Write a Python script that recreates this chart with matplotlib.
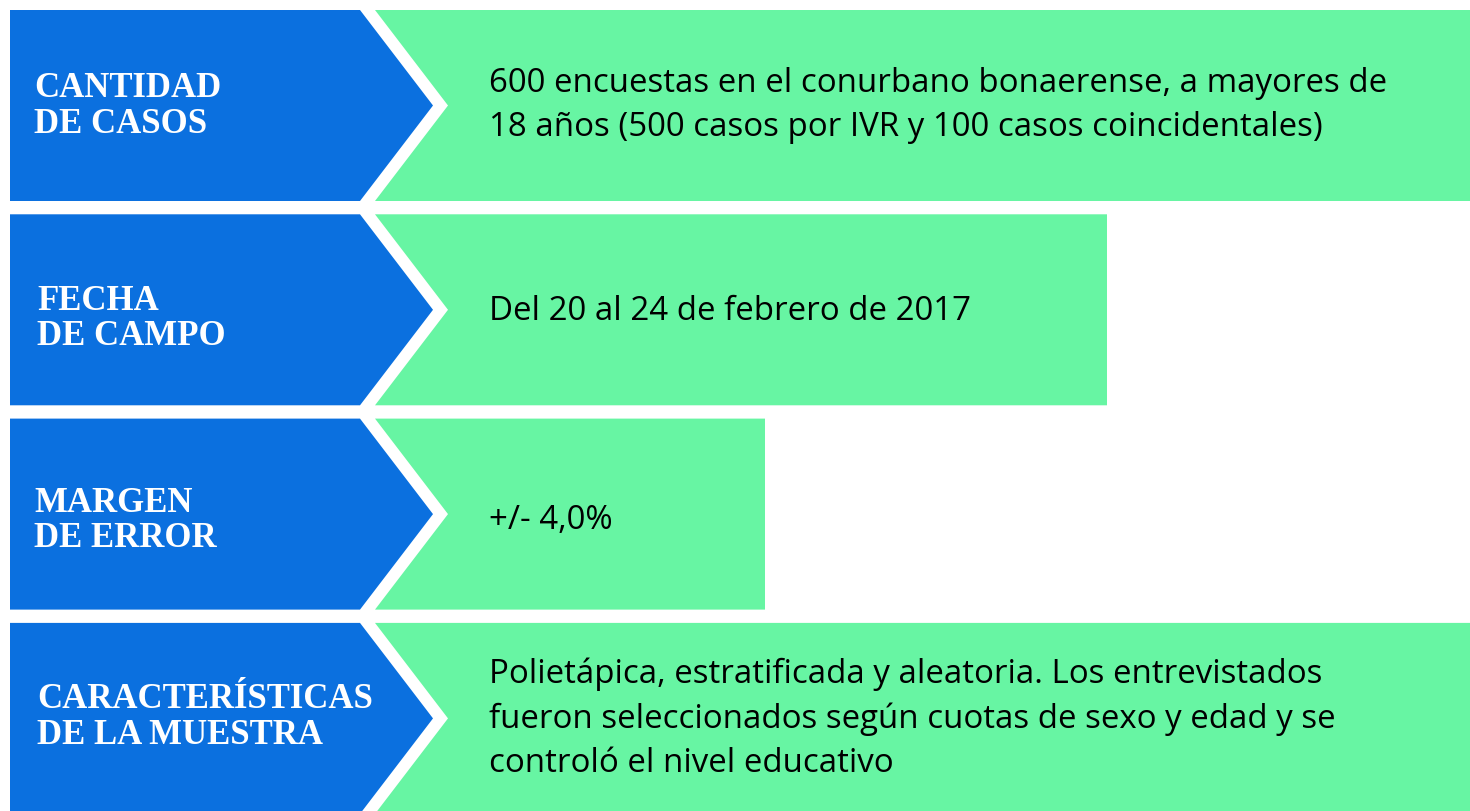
import matplotlib.pyplot as plt
from matplotlib.patches import Polygon

labels = ['CANTIDAD\nDE CASOS', 'FECHA\nDE CAMPO', 'MARGEN\nDE ERROR',
          'CARACTERÍSTICAS\nDE LA MUESTRA']
texts = ['600 encuestas en el conurbano bonaerense, a mayores de\n'
         '18 años (500 casos por IVR y 100 casos coincidentales)',
         'Del 20 al 24 de febrero de 2017',
         '+/- 4,0%',
         'Polietápica, estratificada y aleatoria. Los entrevistados\n'
         'fueron seleccionados según cuotas de sexo y edad y se\n'
         'controló el nivel educativo']
bar_ends = [1470, 1107, 765, 1470]

BLUE = '#0B70DF'
GREEN = '#67F5A3'

# small per-row nudges of the text, as in the original slide
label_dx = [0, 3, 0, 3]
label_dy = [1, 9, 7, -1]
text_dy = [0, 2, 6, 0]

W, H = 1470, 811
fig = plt.figure(figsize=(W / 100, H / 100), dpi=100)
ax = fig.add_axes([0, 0, 1, 1])
ax.set_xlim(0, W)
ax.set_ylim(H, 0)
ax.axis('off')

top0, pitch, height = 10, 204.3, 191
left, box_r, tip = 10, 360, 73
gap = 15

for i, (lab, txt, end) in enumerate(zip(labels, texts, bar_ends)):
    top = top0 + i * pitch
    bot = top + height
    mid = (top + bot) / 2
    blue = Polygon([(left, top), (box_r, top), (box_r + tip, mid),
                    (box_r, bot), (left, bot)], closed=True,
                   facecolor=BLUE, edgecolor='none')
    green = Polygon([(box_r + gap, top), (end, top), (end, bot),
                     (box_r + gap, bot), (box_r + gap + tip, mid)],
                    closed=True, facecolor=GREEN, edgecolor='none')
    ax.add_patch(blue)
    ax.add_patch(green)
    ax.text(34 + label_dx[i], mid + label_dy[i], lab, color='white',
            fontsize=25, fontweight='bold', family='Liberation Serif',
            ha='left', va='center', linespacing=1.1)
    ax.text(489, mid + text_dy[i], txt, color='black', fontsize=23.8,
            family='Open Sans', ha='left', va='center', linespacing=1.44)

fig.savefig('out.png', dpi=100)
